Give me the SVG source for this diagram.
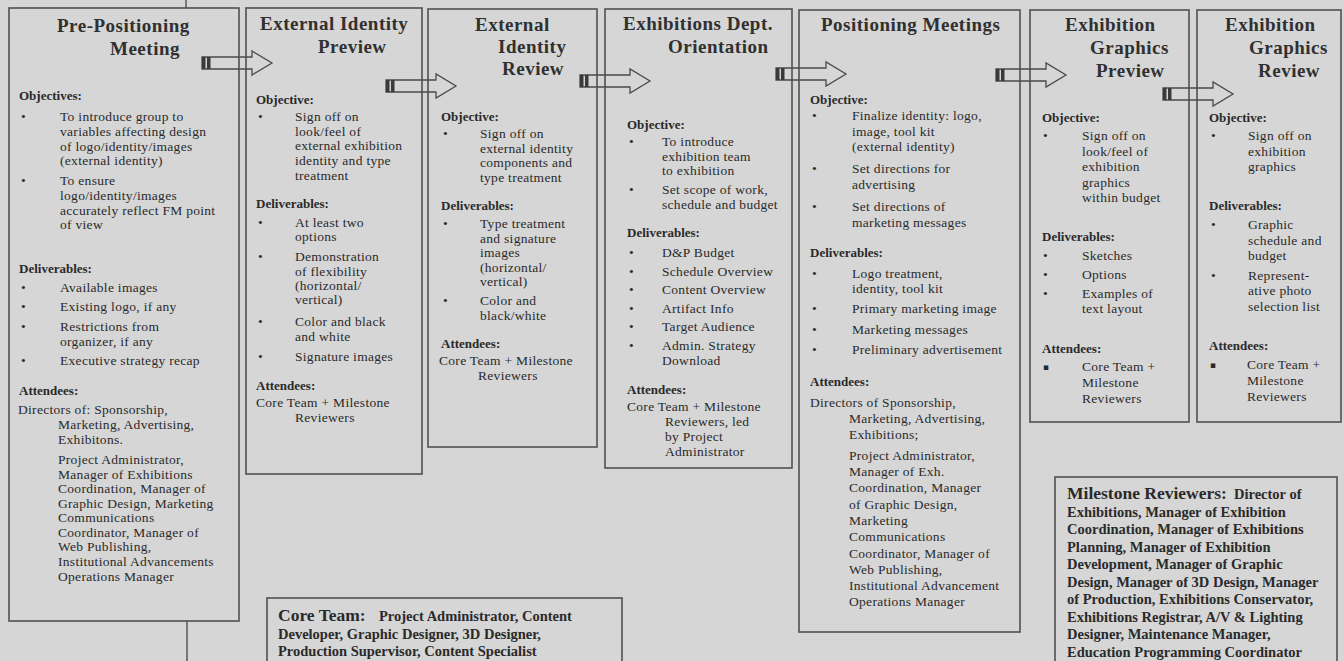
<svg xmlns="http://www.w3.org/2000/svg" xmlns:xlink="http://www.w3.org/1999/xlink" width="1344" height="661" viewBox="0 0 1344 661">
  <style>
    text { font-family: "Liberation Serif", "Times New Roman", serif; fill: #2a2a2a; }
    .t { font-size: 19px; font-weight: bold; letter-spacing: 0.5px; fill: #303030; }
    .h { font-size: 13px; font-weight: bold; }
    .b { font-size: 13.5px; letter-spacing: 0.3px; }
    .sq { font-family: "DejaVu Sans", sans-serif; font-size: 9px; }
    .m { font-size: 14.5px; font-weight: bold; }
    .ml { font-size: 17.5px; font-weight: bold; }
    .box { fill: none; stroke: #505050; stroke-width: 1.6; }
    .rule { stroke: #505050; stroke-width: 1.4; }
  </style>
  <defs>
    <!-- block arrow with a barred tail, tail at origin pointing right -->
    <g id="blockArrow">
      <polygon points="0,-6 50,-6 50,-12 70,0 50,12 50,6 0,6" fill="#d6d6d6" stroke="#4a4a4a" stroke-width="1.3"/>
      <rect x="0" y="-6" width="3.5" height="12" fill="#3a3a3a"/>
      <rect x="5" y="-6" width="3.5" height="12" fill="#3a3a3a"/>
    </g>
  </defs>

  <rect x="0" y="0" width="1344" height="661" fill="#d6d6d6"/>

  <!-- page rule passing behind the first box -->
  <line class="rule" x1="186" y1="0" x2="186" y2="8"/>
  <line class="rule" x1="187" y1="621" x2="187" y2="661"/>

  <g id="connectors">
    <use xlink:href="#blockArrow" transform="translate(202,63)"/>
    <use xlink:href="#blockArrow" transform="translate(386,86)"/>
    <use xlink:href="#blockArrow" transform="translate(580,81)"/>
    <use xlink:href="#blockArrow" transform="translate(776,74)"/>
    <use xlink:href="#blockArrow" transform="translate(996,75)"/>
    <use xlink:href="#blockArrow" transform="translate(1163,94)"/>
  </g>

  <g id="pre-positioning">
    <rect class="box" x="9" y="8" width="230" height="613"/>
    <text class="t" x="57" y="32">Pre-Positioning</text>
    <text class="t" x="110" y="55">Meeting</text>
    <text class="h" x="19" y="100">Objectives:</text>
    <text class="b" x="21" y="121">•</text>
    <text class="b" x="60" y="121">To introduce group to</text>
    <text class="b" x="60" y="136">variables affecting design</text>
    <text class="b" x="60" y="150.5">of logo/identity/images</text>
    <text class="b" x="60" y="165">(external identity)</text>
    <text class="b" x="21" y="185">•</text>
    <text class="b" x="60" y="185">To ensure</text>
    <text class="b" x="60" y="200">logo/identity/images</text>
    <text class="b" x="60" y="215">accurately reflect FM point</text>
    <text class="b" x="60" y="229">of view</text>
    <text class="h" x="19" y="273">Deliverables:</text>
    <text class="b" x="21" y="291.5">•</text>
    <text class="b" x="60" y="291.5">Available images</text>
    <text class="b" x="21" y="310.5">•</text>
    <text class="b" x="60" y="310.5">Existing logo, if any</text>
    <text class="b" x="21" y="330.5">•</text>
    <text class="b" x="60" y="330.5">Restrictions from</text>
    <text class="b" x="60" y="345.5">organizer, if any</text>
    <text class="b" x="21" y="364.5">•</text>
    <text class="b" x="60" y="364.5">Executive strategy recap</text>
    <text class="h" x="19" y="394.5">Attendees:</text>
    <text class="b" x="18" y="413.5">Directors of: Sponsorship,</text>
    <text class="b" x="58" y="429">Marketing, Advertising,</text>
    <text class="b" x="58" y="443.5">Exhibitons.</text>
    <text class="b" x="58" y="463.5">Project Administrator,</text>
    <text class="b" x="58" y="478.5">Manager of Exhibitions</text>
    <text class="b" x="58" y="493">Coordination, Manager of</text>
    <text class="b" x="58" y="507.5">Graphic Design, Marketing</text>
    <text class="b" x="58" y="522">Communications</text>
    <text class="b" x="58" y="536.5">Coordinator, Manager of</text>
    <text class="b" x="58" y="551">Web Publishing,</text>
    <text class="b" x="58" y="566">Institutional Advancements</text>
    <text class="b" x="58" y="581">Operations Manager</text>
  </g>

  <g id="external-identity-preview">
    <rect class="box" x="246" y="8" width="176" height="466"/>
    <text class="t" x="260" y="30">External Identity</text>
    <text class="t" x="318" y="53">Preview</text>
    <text class="h" x="256" y="104">Objective:</text>
    <text class="b" x="258" y="121">•</text>
    <text class="b" x="295" y="121">Sign off on</text>
    <text class="b" x="295" y="135.5">look/feel of</text>
    <text class="b" x="295" y="150">external exhibition</text>
    <text class="b" x="295" y="165">identity and type</text>
    <text class="b" x="295" y="180">treatment</text>
    <text class="h" x="256" y="208">Deliverables:</text>
    <text class="b" x="258" y="227">•</text>
    <text class="b" x="295" y="227">At least two</text>
    <text class="b" x="295" y="241">options</text>
    <text class="b" x="258" y="261">•</text>
    <text class="b" x="295" y="261">Demonstration</text>
    <text class="b" x="295" y="276">of flexibility</text>
    <text class="b" x="295" y="290">(horizontal/</text>
    <text class="b" x="295" y="304">vertical)</text>
    <text class="b" x="258" y="326">•</text>
    <text class="b" x="295" y="326">Color and black</text>
    <text class="b" x="295" y="341">and white</text>
    <text class="b" x="258" y="361">•</text>
    <text class="b" x="295" y="361">Signature images</text>
    <text class="h" x="256" y="390">Attendees:</text>
    <text class="b" x="256" y="407">Core Team + Milestone</text>
    <text class="b" x="295" y="422">Reviewers</text>
  </g>

  <g id="external-identity-review">
    <rect class="box" x="428" y="9" width="169" height="438"/>
    <text class="t" x="475" y="31">External</text>
    <text class="t" x="498" y="53">Identity</text>
    <text class="t" x="502" y="75">Review</text>
    <text class="h" x="441" y="121">Objective:</text>
    <text class="b" x="443" y="138">•</text>
    <text class="b" x="480" y="138">Sign off on</text>
    <text class="b" x="480" y="152.5">external identity</text>
    <text class="b" x="480" y="167">components and</text>
    <text class="b" x="480" y="181.5">type treatment</text>
    <text class="h" x="441" y="210">Deliverables:</text>
    <text class="b" x="443" y="228">•</text>
    <text class="b" x="480" y="228">Type treatment</text>
    <text class="b" x="480" y="242.5">and signature</text>
    <text class="b" x="480" y="257">images</text>
    <text class="b" x="480" y="271.5">(horizontal/</text>
    <text class="b" x="480" y="286">vertical)</text>
    <text class="b" x="443" y="305">•</text>
    <text class="b" x="480" y="305">Color and</text>
    <text class="b" x="480" y="319.5">black/white</text>
    <text class="h" x="441" y="348">Attendees:</text>
    <text class="b" x="439" y="365">Core Team + Milestone</text>
    <text class="b" x="478" y="380">Reviewers</text>
  </g>

  <g id="exhibitions-dept-orientation">
    <rect class="box" x="605" y="9" width="187" height="459"/>
    <text class="t" x="623" y="30">Exhibitions Dept.</text>
    <text class="t" x="668" y="53">Orientation</text>
    <text class="h" x="627" y="129">Objective:</text>
    <text class="b" x="629" y="146">•</text>
    <text class="b" x="662" y="146">To introduce</text>
    <text class="b" x="662" y="161">exhibition team</text>
    <text class="b" x="662" y="175">to exhibition</text>
    <text class="b" x="629" y="194">•</text>
    <text class="b" x="662" y="194">Set scope of work,</text>
    <text class="b" x="662" y="209">schedule and budget</text>
    <text class="h" x="627" y="237">Deliverables:</text>
    <text class="b" x="629" y="257">•</text>
    <text class="b" x="662" y="257">D&amp;P Budget</text>
    <text class="b" x="629" y="276">•</text>
    <text class="b" x="662" y="276">Schedule Overview</text>
    <text class="b" x="629" y="294">•</text>
    <text class="b" x="662" y="294">Content Overview</text>
    <text class="b" x="629" y="313">•</text>
    <text class="b" x="662" y="313">Artifact Info</text>
    <text class="b" x="629" y="331">•</text>
    <text class="b" x="662" y="331">Target Audience</text>
    <text class="b" x="629" y="350">•</text>
    <text class="b" x="662" y="350">Admin. Strategy</text>
    <text class="b" x="662" y="365">Download</text>
    <text class="h" x="627" y="394">Attendees:</text>
    <text class="b" x="627" y="411">Core Team + Milestone</text>
    <text class="b" x="665" y="426">Reviewers, led</text>
    <text class="b" x="665" y="441">by Project</text>
    <text class="b" x="665" y="456">Administrator</text>
  </g>

  <g id="positioning-meetings">
    <rect class="box" x="799" y="10" width="221" height="622"/>
    <text class="t" x="821" y="31">Positioning Meetings</text>
    <text class="h" x="810" y="104">Objective:</text>
    <text class="b" x="812" y="120">•</text>
    <text class="b" x="852" y="120">Finalize identity: logo,</text>
    <text class="b" x="852" y="135.5">image, tool kit</text>
    <text class="b" x="852" y="151">(external identity)</text>
    <text class="b" x="812" y="173">•</text>
    <text class="b" x="852" y="173">Set directions for</text>
    <text class="b" x="852" y="188.5">advertising</text>
    <text class="b" x="812" y="211">•</text>
    <text class="b" x="852" y="211">Set directions of</text>
    <text class="b" x="852" y="226.5">marketing messages</text>
    <text class="h" x="810" y="257">Deliverables:</text>
    <text class="b" x="812" y="278">•</text>
    <text class="b" x="852" y="278">Logo treatment,</text>
    <text class="b" x="852" y="293">identity, tool kit</text>
    <text class="b" x="812" y="313">•</text>
    <text class="b" x="852" y="313">Primary marketing image</text>
    <text class="b" x="812" y="333.5">•</text>
    <text class="b" x="852" y="333.5">Marketing messages</text>
    <text class="b" x="812" y="354">•</text>
    <text class="b" x="852" y="354">Preliminary advertisement</text>
    <text class="h" x="810" y="386">Attendees:</text>
    <text class="b" x="810" y="407">Directors of Sponsorship,</text>
    <text class="b" x="849" y="423">Marketing, Advertising,</text>
    <text class="b" x="849" y="439">Exhibitions;</text>
    <text class="b" x="849" y="460">Project Administrator,</text>
    <text class="b" x="849" y="476">Manager of Exh.</text>
    <text class="b" x="849" y="492">Coordination, Manager</text>
    <text class="b" x="849" y="508.5">of Graphic Design,</text>
    <text class="b" x="849" y="525">Marketing</text>
    <text class="b" x="849" y="541">Communications</text>
    <text class="b" x="849" y="557.5">Coordinator, Manager of</text>
    <text class="b" x="849" y="574">Web Publishing,</text>
    <text class="b" x="849" y="590">Institutional Advancement</text>
    <text class="b" x="849" y="606">Operations Manager</text>
  </g>

  <g id="exhibition-graphics-preview">
    <rect class="box" x="1030" y="10" width="159" height="412"/>
    <text class="t" x="1065" y="31">Exhibition</text>
    <text class="t" x="1090" y="54">Graphics</text>
    <text class="t" x="1096" y="77">Preview</text>
    <text class="h" x="1042" y="122">Objective:</text>
    <text class="b" x="1043" y="140">•</text>
    <text class="b" x="1082" y="140">Sign off on</text>
    <text class="b" x="1082" y="155.5">look/feel of</text>
    <text class="b" x="1082" y="171">exhibition</text>
    <text class="b" x="1082" y="186.5">graphics</text>
    <text class="b" x="1082" y="202">within budget</text>
    <text class="h" x="1042" y="241">Deliverables:</text>
    <text class="b" x="1043" y="260">•</text>
    <text class="b" x="1082" y="260">Sketches</text>
    <text class="b" x="1043" y="279">•</text>
    <text class="b" x="1082" y="279">Options</text>
    <text class="b" x="1043" y="297.5">•</text>
    <text class="b" x="1082" y="297.5">Examples of</text>
    <text class="b" x="1082" y="313">text layout</text>
    <text class="h" x="1042" y="353">Attendees:</text>
    <text class="sq" x="1043" y="370">▪</text>
    <text class="b" x="1082" y="371">Core Team +</text>
    <text class="b" x="1082" y="387">Milestone</text>
    <text class="b" x="1082" y="403">Reviewers</text>
  </g>

  <g id="exhibition-graphics-review">
    <rect class="box" x="1197" y="10" width="144" height="412"/>
    <text class="t" x="1225" y="31">Exhibition</text>
    <text class="t" x="1249" y="54">Graphics</text>
    <text class="t" x="1258" y="77">Review</text>
    <text class="h" x="1209" y="122">Objective:</text>
    <text class="b" x="1211" y="140">•</text>
    <text class="b" x="1248" y="140">Sign off on</text>
    <text class="b" x="1248" y="155.5">exhibition</text>
    <text class="b" x="1248" y="171">graphics</text>
    <text class="h" x="1209" y="210">Deliverables:</text>
    <text class="b" x="1211" y="229">•</text>
    <text class="b" x="1248" y="229">Graphic</text>
    <text class="b" x="1248" y="244.5">schedule and</text>
    <text class="b" x="1248" y="260">budget</text>
    <text class="b" x="1211" y="279.5">•</text>
    <text class="b" x="1248" y="279.5">Represent-</text>
    <text class="b" x="1248" y="295">ative photo</text>
    <text class="b" x="1248" y="310.5">selection list</text>
    <text class="h" x="1209" y="350">Attendees:</text>
    <text class="sq" x="1210" y="368">▪</text>
    <text class="b" x="1247" y="369">Core Team +</text>
    <text class="b" x="1247" y="385">Milestone</text>
    <text class="b" x="1247" y="400.5">Reviewers</text>
  </g>

  <g id="core-team">
    <rect class="box" x="267" y="598" width="355" height="70"/>
    <text x="278" y="621"><tspan class="ml">Core Team:</tspan><tspan class="m" x="379">Project Administrator, Content</tspan></text>
    <text class="m" x="278" y="638.5">Developer, Graphic Designer, 3D Designer,</text>
    <text class="m" x="278" y="656">Production Supervisor, Content Specialist</text>
  </g>

  <g id="milestone-reviewers">
    <rect class="box" x="1055" y="477" width="282" height="190"/>
    <text x="1067" y="499"><tspan class="ml">Milestone Reviewers:</tspan><tspan class="m" x="1234">Director of</tspan></text>
    <text class="m" x="1067" y="516.5">Exhibitions, Manager of Exhibition</text>
    <text class="m" x="1067" y="534">Coordination, Manager of Exhibitions</text>
    <text class="m" x="1067" y="551.5">Planning, Manager of Exhibition</text>
    <text class="m" x="1067" y="569">Development, Manager of Graphic</text>
    <text class="m" x="1067" y="586.5">Design, Manager of 3D Design, Manager</text>
    <text class="m" x="1067" y="604">of Production, Exhibitions Conservator,</text>
    <text class="m" x="1067" y="621.5">Exhibitions Registrar, A/V &amp; Lighting</text>
    <text class="m" x="1067" y="639">Designer, Maintenance Manager,</text>
    <text class="m" x="1067" y="656.5">Education Programming Coordinator</text>
  </g>
</svg>
